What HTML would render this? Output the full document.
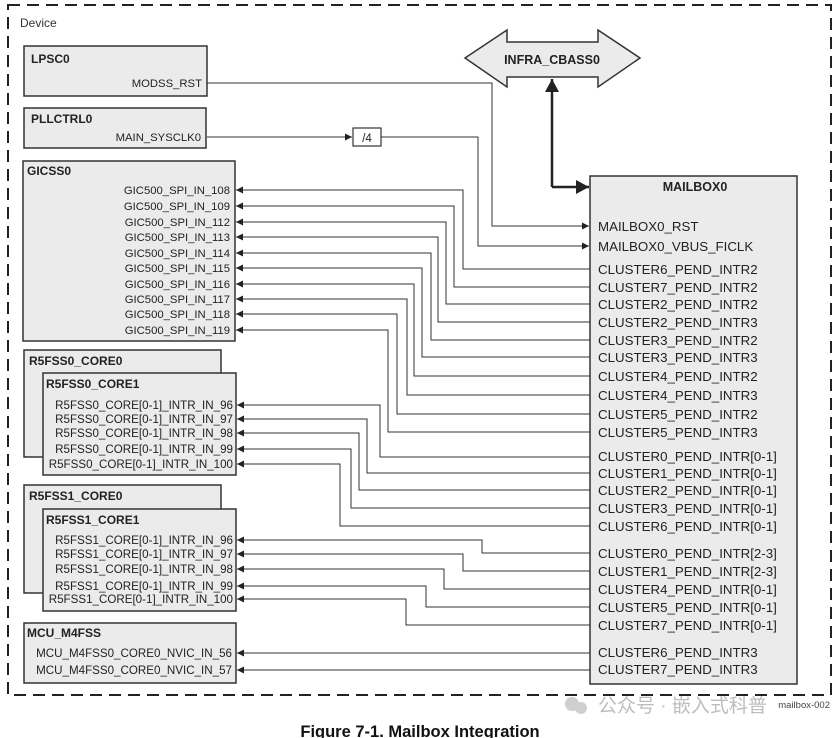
<!DOCTYPE html>
<html><head><meta charset="utf-8"><style>
html,body{margin:0;padding:0;background:#fff;}
svg{display:block;font-family:"Liberation Sans",Arial,sans-serif;}
.b{fill:#ebebeb;stroke:#333;stroke-width:1.5}
.t{font-size:12px;font-weight:bold;fill:#222}
.s{font-size:11.3px;fill:#222}
.r{font-size:11.6px;fill:#222}
.m{font-size:13.3px;fill:#222}
.l{fill:none;stroke:#333;stroke-width:1}
</style></head><body>
<svg width="839" height="738" viewBox="0 0 839 738" xmlns="http://www.w3.org/2000/svg">
<defs>
<marker id="a" markerWidth="8" markerHeight="8" refX="7" refY="4" orient="auto" markerUnits="userSpaceOnUse"><path d="M0,0.5 L7,4 L0,7.5z" fill="#222"/></marker>
<marker id="A" markerWidth="14" markerHeight="14" refX="13" refY="7" orient="auto" markerUnits="userSpaceOnUse"><path d="M0,0 L13,7 L0,14z" fill="#222"/></marker>
</defs>
<rect x="8" y="5" width="823" height="690" fill="none" stroke="#222" stroke-width="2" stroke-dasharray="12,7"/>
<text x="20" y="27" font-size="12" fill="#333">Device</text>

<rect class="b" x="24" y="46" width="183" height="50"/>
<text class="t" x="31" y="63">LPSC0</text>
<text class="s" x="202" y="87" text-anchor="end">MODSS_RST</text>
<rect class="b" x="24" y="108" width="182" height="40"/>
<text class="t" x="31" y="123">PLLCTRL0</text>
<text class="s" x="201" y="141" text-anchor="end">MAIN_SYSCLK0</text>
<rect x="353" y="128" width="28" height="18" fill="#fff" stroke="#333" stroke-width="1.2"/>
<text x="367" y="142" font-size="11.5" text-anchor="middle" fill="#222">/4</text>
<rect class="b" x="23" y="161" width="212" height="180"/>
<text class="t" x="27" y="175">GICSS0</text>
<g class="s" text-anchor="end">
<text x="230" y="194">GIC500_SPI_IN_108</text>
<text x="230" y="210">GIC500_SPI_IN_109</text>
<text x="230" y="226">GIC500_SPI_IN_112</text>
<text x="230" y="241">GIC500_SPI_IN_113</text>
<text x="230" y="257">GIC500_SPI_IN_114</text>
<text x="230" y="272">GIC500_SPI_IN_115</text>
<text x="230" y="288">GIC500_SPI_IN_116</text>
<text x="230" y="303">GIC500_SPI_IN_117</text>
<text x="230" y="318">GIC500_SPI_IN_118</text>
<text x="230" y="334">GIC500_SPI_IN_119</text>
</g>
<rect class="b" x="24" y="350" width="197" height="107"/>
<text class="t" x="29" y="365">R5FSS0_CORE0</text>
<rect class="b" x="43" y="373" width="193" height="102"/>
<text class="t" x="46" y="388">R5FSS0_CORE1</text>
<g class="r" text-anchor="end">
<text x="233" y="409">R5FSS0_CORE[0-1]_INTR_IN_96</text>
<text x="233" y="423">R5FSS0_CORE[0-1]_INTR_IN_97</text>
<text x="233" y="437">R5FSS0_CORE[0-1]_INTR_IN_98</text>
<text x="233" y="453">R5FSS0_CORE[0-1]_INTR_IN_99</text>
<text x="233" y="468">R5FSS0_CORE[0-1]_INTR_IN_100</text>
</g>
<rect class="b" x="24" y="485" width="197" height="108"/>
<text class="t" x="29" y="500">R5FSS1_CORE0</text>
<rect class="b" x="43" y="509" width="193" height="102"/>
<text class="t" x="46" y="524">R5FSS1_CORE1</text>
<g class="r" text-anchor="end">
<text x="233" y="544">R5FSS1_CORE[0-1]_INTR_IN_96</text>
<text x="233" y="558">R5FSS1_CORE[0-1]_INTR_IN_97</text>
<text x="233" y="573">R5FSS1_CORE[0-1]_INTR_IN_98</text>
<text x="233" y="590">R5FSS1_CORE[0-1]_INTR_IN_99</text>
<text x="233" y="603">R5FSS1_CORE[0-1]_INTR_IN_100</text>
</g>
<rect class="b" x="24" y="623" width="212" height="60"/>
<text class="t" x="27" y="637">MCU_M4FSS</text>
<g class="r" text-anchor="end">
<text x="232" y="657">MCU_M4FSS0_CORE0_NVIC_IN_56</text>
<text x="232" y="674">MCU_M4FSS0_CORE0_NVIC_IN_57</text>
</g>

<polygon points="465,58 507,30 507,42 598,42 598,30 640,58 598,87 598,77 507,77 507,87" fill="#ebebeb" stroke="#333" stroke-width="1.5"/>
<text x="552" y="64" font-size="12.5" font-weight="bold" text-anchor="middle" fill="#222">INFRA_CBASS0</text>
<path d="M552,187 L552,79" fill="none" stroke="#222" stroke-width="2.5" marker-end="url(#A)"/>
<path d="M552,187 L589,187" fill="none" stroke="#222" stroke-width="2.5" marker-end="url(#A)"/>

<rect class="b" x="590" y="176" width="207" height="508"/>
<text x="695" y="191" font-size="12.5" font-weight="bold" text-anchor="middle" fill="#222">MAILBOX0</text>
<g class="m">
<text x="598" y="231">MAILBOX0_RST</text>
<text x="598" y="251">MAILBOX0_VBUS_FICLK</text>
<text x="598" y="274">CLUSTER6_PEND_INTR2</text>
<text x="598" y="292">CLUSTER7_PEND_INTR2</text>
<text x="598" y="309">CLUSTER2_PEND_INTR2</text>
<text x="598" y="327">CLUSTER2_PEND_INTR3</text>
<text x="598" y="345">CLUSTER3_PEND_INTR2</text>
<text x="598" y="362">CLUSTER3_PEND_INTR3</text>
<text x="598" y="381">CLUSTER4_PEND_INTR2</text>
<text x="598" y="400">CLUSTER4_PEND_INTR3</text>
<text x="598" y="419">CLUSTER5_PEND_INTR2</text>
<text x="598" y="437">CLUSTER5_PEND_INTR3</text>
<text x="598" y="461">CLUSTER0_PEND_INTR[0-1]</text>
<text x="598" y="478">CLUSTER1_PEND_INTR[0-1]</text>
<text x="598" y="495">CLUSTER2_PEND_INTR[0-1]</text>
<text x="598" y="513">CLUSTER3_PEND_INTR[0-1]</text>
<text x="598" y="531">CLUSTER6_PEND_INTR[0-1]</text>
<text x="598" y="558">CLUSTER0_PEND_INTR[2-3]</text>
<text x="598" y="576">CLUSTER1_PEND_INTR[2-3]</text>
<text x="598" y="594">CLUSTER4_PEND_INTR[0-1]</text>
<text x="598" y="612">CLUSTER5_PEND_INTR[0-1]</text>
<text x="598" y="630">CLUSTER7_PEND_INTR[0-1]</text>
<text x="598" y="657">CLUSTER6_PEND_INTR3</text>
<text x="598" y="674">CLUSTER7_PEND_INTR3</text>
</g>

<g class="l">
<path d="M207,83 H492 V226 H589" marker-end="url(#a)"/>
<path d="M207,137 H352" marker-end="url(#a)"/>
<path d="M381,137 H478 V246 H589" marker-end="url(#a)"/>
<path d="M590,269 H463 V190 H236" marker-end="url(#a)"/>
<path d="M590,287 H454 V206 H236" marker-end="url(#a)"/>
<path d="M590,304 H446 V222 H236" marker-end="url(#a)"/>
<path d="M590,322 H438 V237 H236" marker-end="url(#a)"/>
<path d="M590,340 H431 V253 H236" marker-end="url(#a)"/>
<path d="M590,357 H422 V268 H236" marker-end="url(#a)"/>
<path d="M590,376 H414 V284 H236" marker-end="url(#a)"/>
<path d="M590,395 H407 V299 H236" marker-end="url(#a)"/>
<path d="M590,414 H397 V314 H236" marker-end="url(#a)"/>
<path d="M590,432 H388 V330 H236" marker-end="url(#a)"/>
<path d="M590,457 H380 V405 H237" marker-end="url(#a)"/>
<path d="M590,473 H367 V419 H237" marker-end="url(#a)"/>
<path d="M590,490 H359 V433 H237" marker-end="url(#a)"/>
<path d="M590,508 H351 V449 H237" marker-end="url(#a)"/>
<path d="M590,526 H340 V464 H237" marker-end="url(#a)"/>
<path d="M590,553 H482 V540 H237" marker-end="url(#a)"/>
<path d="M590,571 H463 V554 H237" marker-end="url(#a)"/>
<path d="M590,589 H444 V569 H237" marker-end="url(#a)"/>
<path d="M590,607 H426 V586 H237" marker-end="url(#a)"/>
<path d="M590,625 H406 V599 H237" marker-end="url(#a)"/>
<path d="M590,653 H237" marker-end="url(#a)"/>
<path d="M590,670 H237" marker-end="url(#a)"/>
</g>

<circle cx="572" cy="704" r="7" fill="#cfcfcf"/><circle cx="581" cy="708" r="6" fill="#cfcfcf"/>
<text x="598" y="712" font-size="19" fill="#bdbdbd" font-family="'Liberation Sans','Noto Sans CJK SC',sans-serif">公众号 · 嵌入式科普</text>
<text x="830" y="708" font-size="9.5" text-anchor="end" fill="#444">mailbox-002</text>
<text x="420" y="737" font-size="16.5" font-weight="bold" text-anchor="middle" fill="#111">Figure 7-1. Mailbox Integration</text>
</svg>
</body></html>
